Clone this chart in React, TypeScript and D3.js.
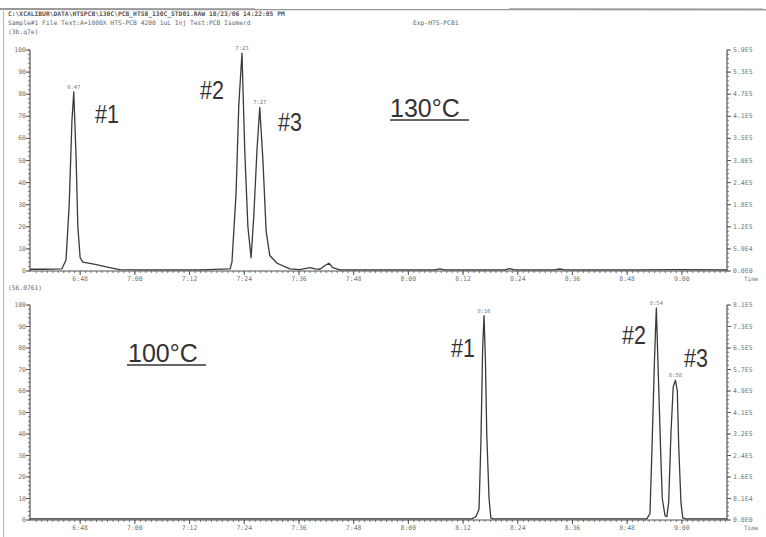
import React from "react";
import * as d3 from "d3";

// ---- data (retention time in seconds, relative abundance %) ----
const timeTicks = [408, 420, 432, 444, 456, 468, 480, 492, 504, 516, 528, 540];
const timeTickLabels = ["6:48", "7:00", "7:12", "7:24", "7:36", "7:48", "8:00", "8:12", "8:24", "8:36", "8:48", "9:00"];
const pctTicks = [0, 10, 20, 30, 40, 50, 60, 70, 80, 90, 100];

const topTimes = [397.0, 400.0, 404.0, 404.9, 405.6, 406.2, 406.6, 407.1, 407.5, 408.0, 408.6, 411.3, 414.5, 416.7, 423.3, 434.3, 440.9, 441.3, 442.2, 442.8, 443.5, 444.1, 444.8, 445.5, 446.1, 446.8, 447.4, 448.1, 448.8, 449.6, 451.2, 454.0, 456.2, 458.4, 459.5, 460.6, 461.7, 462.6, 463.4, 465.0, 478.1, 485.8, 486.9, 488.0, 501.2, 502.2, 503.3, 512.1, 513.2, 514.3, 530.0, 539.5, 549.9];
const topIntensity = [0.8, 0.8, 1.0, 5, 30, 68, 81, 52, 20, 6, 4, 3, 1.5, 0.6, 0.5, 0.5, 1, 4, 35, 75, 98.6, 55, 20, 6, 25, 55, 74, 50, 18, 7, 3.5, 1, 0.6, 1.5, 1, 0.8, 2.5, 3.5, 1.5, 0.5, 0.5, 0.5, 1, 0.5, 0.5, 1.1, 0.5, 0.5, 0.9, 0.5, 0.5, 0.6, 0.5];

const bottomTimes = [397.0, 493.9, 494.8, 495.5, 495.9, 496.3, 496.6, 496.9, 497.2, 497.7, 498.1, 498.5, 532.3, 533.0, 533.4, 534.0, 534.4, 534.8, 535.3, 535.7, 536.3, 536.7, 537.1, 537.6, 538.1, 538.6, 539.0, 539.3, 539.8, 540.2, 540.9, 549.9];
const bottomIntensity = [0.5, 0.5, 1.5, 5, 35, 80, 95, 75, 40, 10, 1, 0.5, 0.5, 3, 30, 75, 98.6, 70, 35, 10, 2, 1.5, 8, 40, 62, 65, 60, 35, 8, 1, 0.5, 0.5];

const topPeakTimes = [406.6, 443.5, 447.4];
const topPeakHeights = [81, 98.6, 74];
const topPeakLabels = ["6:47", "7:23", "7:27"];
const bottomPeakTimes = [496.6, 534.4, 538.6];
const bottomPeakHeights = [95, 98.6, 65];
const bottomPeakLabels = ["8:16", "8:54", "8:58"];

const topNL = 5.9e5;
const bottomNL = 8.1e5;

const headerLine1 = "C:\\XCALIBUR\\DATA\\HTSPCB\\130C\\PCB_HTS8_130C_STD01.RAW 10/23/06 14:22:05 PM";
const headerLine2 = "Sample#1 File Text:A=1000X HTS-PCB 4200 1uL Inj Test:PCB Isomerd";
const headerExp = "Exp-HTS-PCB1";
const headerLine3 = "(3b.q7e)";
const bottomHeader = "(56.0761)";

const W = 766;
const H = 537;
const X0 = 30;
const X1 = 727;

const fmtE = (v: number) => {
  if (v === 0) return "0.0E0";
  const s = v.toExponential(1);
  return s.replace("e+", "E");
};

type PanelProps = {
  yTop: number;
  yBot: number;
  times: number[];
  vals: number[];
  nl: number;
  peakT: number[];
  peakH: number[];
  peakL: string[];
};

const x = d3.scaleLinear().domain([397, 549.9]).range([X0, X1]);

function Panel({ yTop, yBot, times, vals, nl, peakT, peakH, peakL }: PanelProps) {
  const y = d3.scaleLinear().domain([0, 100]).range([yBot, yTop]);
  const yAbs = d3.scaleLinear().domain([0, nl]).range([yBot, yTop]);
  const pts: [number, number][] = times.map((t, i) => [t, vals[i]]);
  const line = d3
    .line<[number, number]>()
    .x((d) => x(d[0]))
    .y((d) => y(d[1]));
  const minorY = d3.range(0, 100.01, 2);
  const minorX = d3.range(398.4, 549.9, 1.2);
  const absTicks = pctTicks.map((p) => (p / 100) * nl);
  const axisColor = "#555";
  const tickText = { fontFamily: "DejaVu Sans Mono, monospace", fontSize: 6.5, fill: "#777" } as const;
  return (
    <g>
      {/* left axis */}
      <line x1={X0} x2={X0} y1={yTop} y2={yBot} stroke={axisColor} strokeWidth={1.2} />
      {minorY.map((v) => (
        <line key={"ml" + v} x1={X0 - 2} x2={X0} y1={y(v)} y2={y(v)} stroke={axisColor} strokeWidth={0.8} />
      ))}
      {pctTicks.map((v) => (
        <g key={"l" + v}>
          <line x1={X0 - 4} x2={X0} y1={y(v)} y2={y(v)} stroke={axisColor} strokeWidth={1} />
          <text x={X0 - 4} y={y(v) + 2} textAnchor="end" {...tickText}>
            {v}
          </text>
        </g>
      ))}
      {/* right axis */}
      <line x1={X1} x2={X1} y1={yAbs(nl)} y2={yBot} stroke={axisColor} strokeWidth={1.2} />
      {minorY.map((v) => (
        <line key={"mr" + v} x1={X1} x2={X1 + 2} y1={y(v)} y2={y(v)} stroke={axisColor} strokeWidth={0.8} />
      ))}
      {absTicks.map((v, i) => (
        <g key={"r" + i}>
          <line x1={X1} x2={X1 + 4} y1={yAbs(v)} y2={yAbs(v)} stroke={axisColor} strokeWidth={1} />
          <text x={X1 + 6} y={yAbs(v) + 2} {...tickText}>
            {fmtE(v)}
          </text>
        </g>
      ))}
      {/* bottom axis */}
      <line x1={X0} x2={X1} y1={yBot} y2={yBot} stroke={axisColor} strokeWidth={1.2} />
      {minorX.map((t, i) => (
        <line key={"mx" + i} x1={x(t)} x2={x(t)} y1={yBot} y2={yBot + 2} stroke={axisColor} strokeWidth={0.8} />
      ))}
      {timeTicks.map((t, i) => (
        <g key={"x" + t}>
          <line x1={x(t)} x2={x(t)} y1={yBot} y2={yBot + 4} stroke={axisColor} strokeWidth={1} />
          <text x={x(t)} y={yBot + 10} textAnchor="middle" {...tickText}>
            {timeTickLabels[i]}
          </text>
        </g>
      ))}
      <text x={744} y={yBot + 10} {...tickText} fontSize={6}>
        Time
      </text>
      {/* trace */}
      <path d={line(pts) || ""} fill="none" stroke="#3a3a3a" strokeWidth={1.3} strokeLinejoin="round" />
      {/* peak labels */}
      {peakT.map((t, i) => (
        <text key={"p" + i} x={x(t)} y={y(peakH[i]) - 3} textAnchor="middle" {...tickText} fontSize={5.5}>
          {peakL[i]}
        </text>
      ))}
    </g>
  );
}

function Tag({ x0, y0, text }: { x0: number; y0: number; text: string }) {
  return (
    <text
      transform={`translate(${x0},${y0}) scale(0.86,1)`}
      fontFamily="Liberation Sans, Arial, sans-serif"
      fontSize={25}
      fill="#333"
    >
      {text}
    </text>
  );
}

export default function App() {
  const big = { fontFamily: "Liberation Sans, Arial, sans-serif", fontSize: 25, fill: "#333" } as const;
  const hdr = { fontFamily: "DejaVu Sans Mono, monospace", fontSize: 6.3, fill: "#666" } as const;
  return (
    <svg width={W} height={H} style={{ position: "absolute", left: 0, top: 0, background: "#fff" }}>
      <rect x={0} y={0} width={W} height={H} fill="#fff" />
      {/* scan border lines */}
      <line x1={0} x2={W} y1={9} y2={9.5} stroke="#999" strokeWidth={2} />
      <line x1={3.5} x2={3.5} y1={9} y2={H} stroke="#bbb" strokeWidth={1.2} />
      {/* header */}
      <text x={8} y={16} {...hdr} fill="#555" fontWeight="bold">{headerLine1}</text>
      <text x={8} y={25} {...hdr}>{headerLine2}</text>
      <text x={413} y={25} {...hdr}>{headerExp}</text>
      <text x={8} y={34} {...hdr}>{headerLine3}</text>
      <text x={8} y={290} {...hdr}>{bottomHeader}</text>

      <Panel yTop={50} yBot={271} times={topTimes} vals={topIntensity} nl={topNL} peakT={topPeakTimes} peakH={topPeakHeights} peakL={topPeakLabels} />
      <Panel yTop={305} yBot={520} times={bottomTimes} vals={bottomIntensity} nl={bottomNL} peakT={bottomPeakTimes} peakH={bottomPeakHeights} peakL={bottomPeakLabels} />

      {/* annotations */}
      <Tag x0={95} y0={123} text="#1" />
      <Tag x0={200} y0={99} text="#2" />
      <Tag x0={278} y0={131} text="#3" />
      <text x={390} y={117} {...big}>130°C</text>
      <line x1={390} x2={469} y1={120} y2={120} stroke="#333" strokeWidth={1.5} />

      <text x={128} y={362} {...big}>100°C</text>
      <line x1={127} x2={206} y1={365} y2={365} stroke="#333" strokeWidth={1.5} />
      <Tag x0={451} y0={357} text="#1" />
      <Tag x0={622} y0={344} text="#2" />
      <Tag x0={684} y0={367} text="#3" />
    </svg>
  );
}
